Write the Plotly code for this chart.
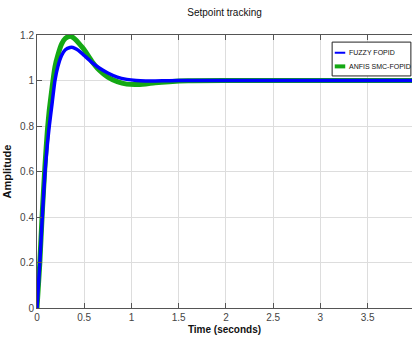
import plotly.graph_objects as go

# Data
time_s = [0, 0.03, 0.056, 0.085, 0.11, 0.13, 0.16, 0.19, 0.22, 0.26, 0.30, 0.35, 0.38,
          0.42, 0.46, 0.50, 0.58, 0.66, 0.75, 0.85, 0.95, 1.05, 1.15, 1.25, 1.40, 1.60,
          2.0, 2.5, 3.0, 3.5, 4.0]
fuzzy_fopid = [0, 0.20, 0.40, 0.60, 0.72, 0.80, 0.90, 1.00, 1.06, 1.11, 1.135, 1.145, 1.145,
               1.137, 1.125, 1.11, 1.08, 1.055, 1.033, 1.015, 1.005, 1.0, 0.998, 0.998, 0.999, 1.0,
               1.0, 1.0, 1.0, 1.0, 1.0]
anfis_smc_fopid = [0, 0.20, 0.42, 0.63, 0.78, 0.87, 0.97, 1.06, 1.11, 1.16, 1.185, 1.195, 1.19,
                   1.175, 1.155, 1.135, 1.085, 1.045, 1.015, 0.995, 0.984, 0.982, 0.985, 0.99, 0.995, 0.999,
                   1.0, 1.0, 1.0, 1.0, 1.0]
x_ticks = [0, 0.5, 1, 1.5, 2, 2.5, 3, 3.5]
y_ticks = [0, 0.2, 0.4, 0.6, 0.8, 1, 1.2]
setpoint = 1.0
series_names = ["FUZZY FOPID", "ANFIS SMC-FOPID"]
series_colors = ["#0000ff", "#14a814"]

font_family = "Liberation Sans, Arial, sans-serif"

fig = go.Figure()
fig.add_trace(go.Scatter(x=time_s, y=anfis_smc_fopid, mode="lines", name=series_names[1],
                         line=dict(color=series_colors[1], width=5, shape="spline", smoothing=0.6)))
fig.add_trace(go.Scatter(x=time_s, y=fuzzy_fopid, mode="lines", name=series_names[0],
                         line=dict(color=series_colors[0], width=3.5, shape="spline", smoothing=0.6)))

fig.add_hline(y=setpoint, line=dict(color="#888888", width=1, dash="dot"), layer="below")

# Custom compact legend (box, line samples, labels) in plot-area coordinates
fig.add_shape(type="rect", xref="paper", yref="paper", x0=0.787, x1=0.997, y0=0.850, y1=0.974,
              line=dict(color="#222222", width=1), fillcolor="white", layer="above")
legend_y = [0.935, 0.885]
legend_w = [2, 4]
for name, color, yy, w in zip(series_names, series_colors, legend_y, legend_w):
    fig.add_shape(type="line", xref="paper", yref="paper", x0=0.794, x1=0.822, y0=yy, y1=yy,
                  line=dict(color=color, width=w), layer="above")
    fig.add_annotation(xref="paper", yref="paper", x=0.826, y=yy, text=name, showarrow=False,
                       xanchor="left", yanchor="middle",
                       font=dict(family=font_family, size=7, color="#111111"))

fig.update_layout(
    width=412, height=345,
    margin=dict(l=37, r=0, t=35, b=37, autoexpand=False),
    paper_bgcolor="white", plot_bgcolor="white",
    title=dict(text="Setpoint tracking", x=0.545, xanchor="center", xref="container",
               y=0.965, yanchor="middle", yref="container", pad=dict(t=0, b=0),
               font=dict(family=font_family, size=10, color="#111111")),
    font=dict(family=font_family, size=10, color="#444444"),
    showlegend=False,
)
fig.update_xaxes(range=[0, 3.97], tickvals=x_ticks, ticktext=[str(v) for v in x_ticks],
                 showgrid=True, gridcolor="#dddddd", gridwidth=1,
                 showline=True, linecolor="#555555", linewidth=1, mirror="ticks",
                 ticks="inside", ticklen=5, tickcolor="#555555", zeroline=False,
                 title=dict(text="<b>Time (seconds)</b>", standoff=3,
                            font=dict(family=font_family, size=10, color="#111111")))
fig.update_yaxes(range=[0, 1.2], tickvals=y_ticks, ticktext=["0", "0.2", "0.4", "0.6", "0.8", "1", "1.2"],
                 showgrid=True, gridcolor="#dddddd", gridwidth=1,
                 showline=True, linecolor="#555555", linewidth=1, mirror=False,
                 ticks="inside", ticklen=5, tickcolor="#555555", zeroline=False,
                 title=dict(text="<b>Amplitude</b>", standoff=6,
                            font=dict(family=font_family, size=11, color="#111111")))

fig.write_html("out.html", config={"displayModeBar": False},
               post_script="document.body.style.margin='0';")
